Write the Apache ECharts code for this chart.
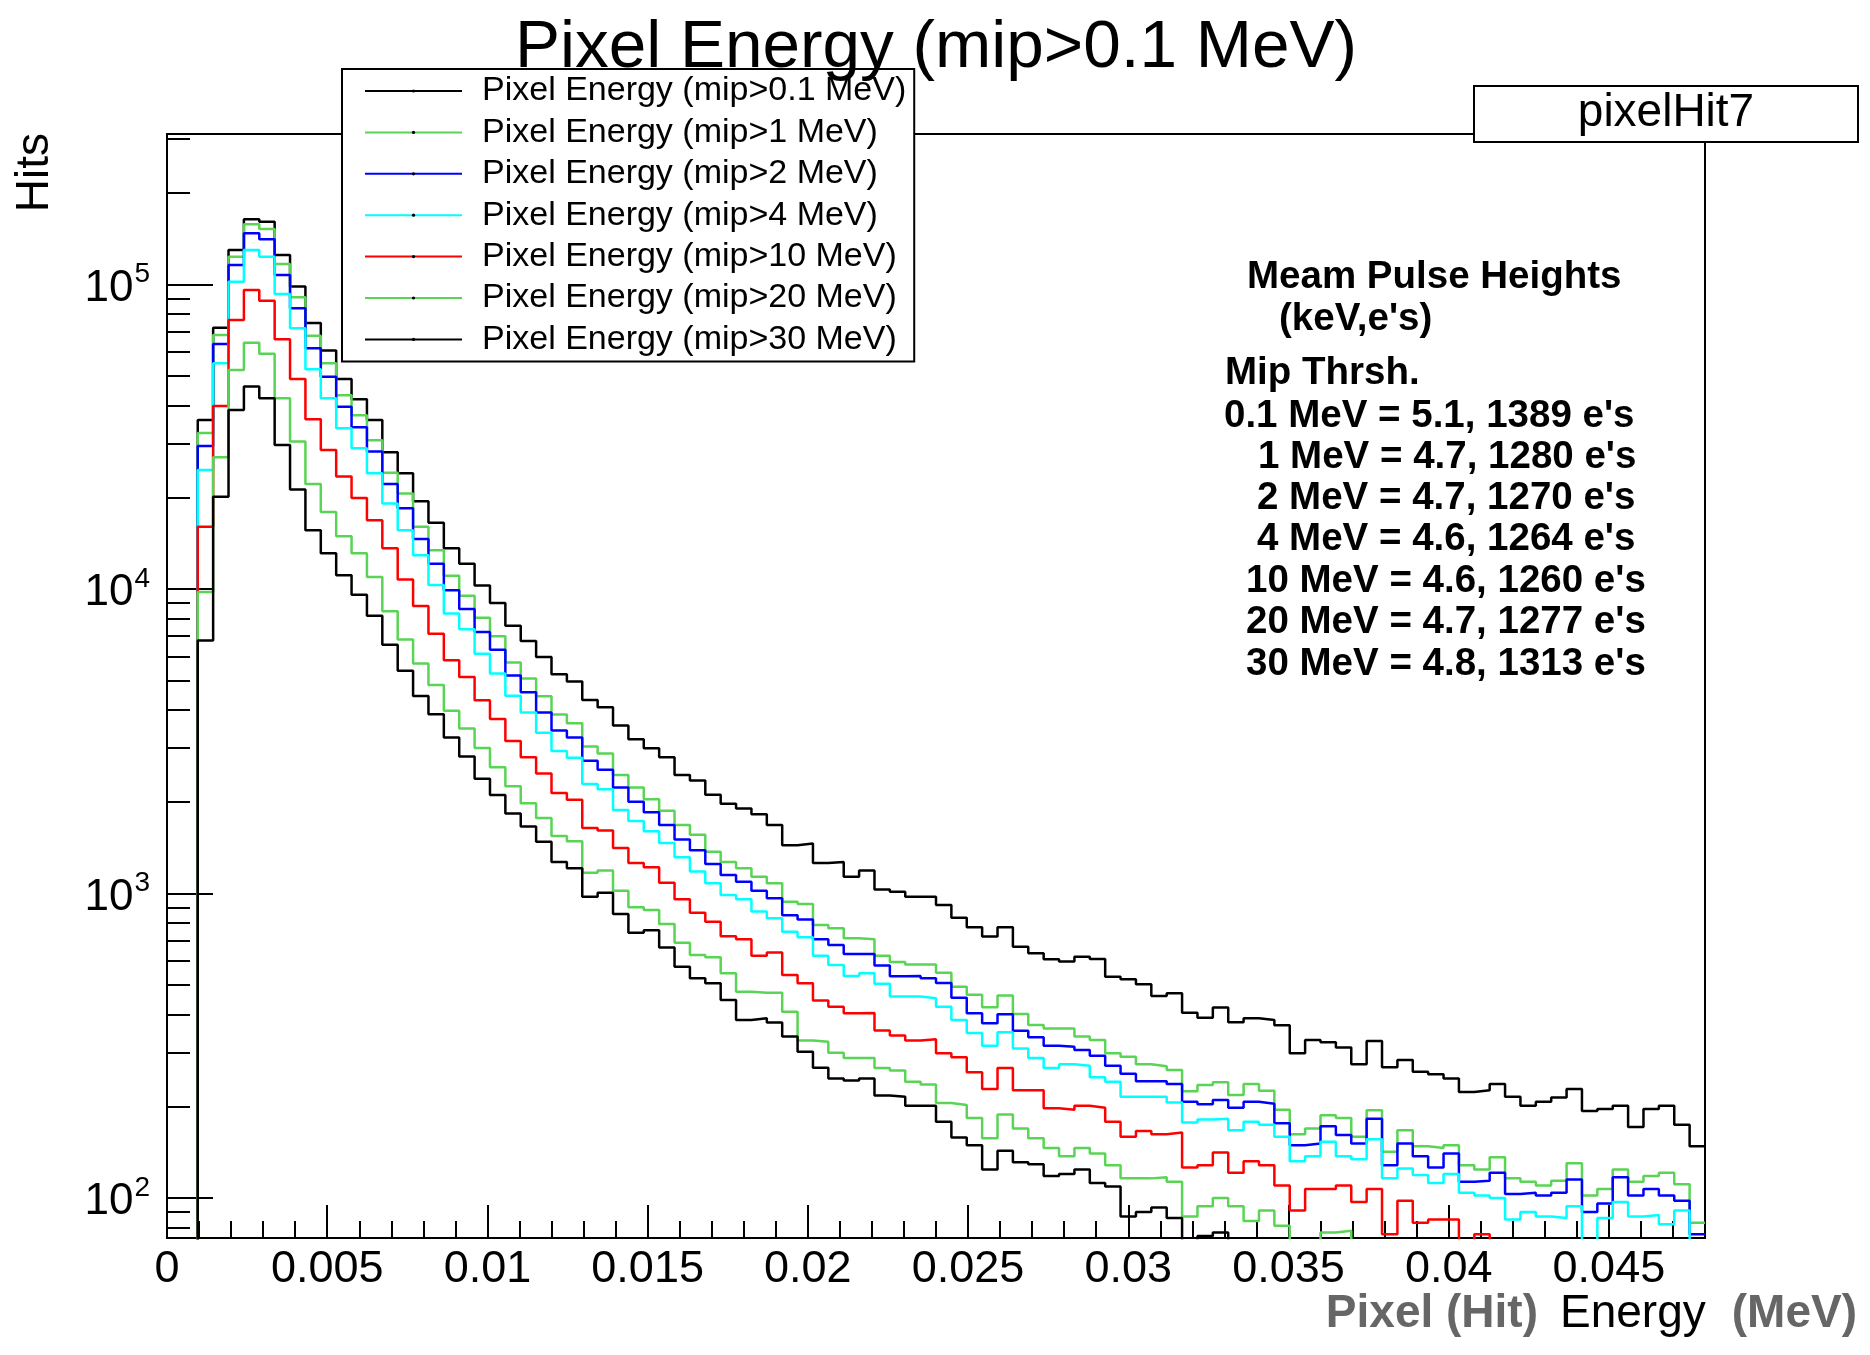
<!DOCTYPE html>
<html>
<head>
<meta charset="utf-8">
<script src="https://cdn.jsdelivr.net/npm/echarts@6/dist/echarts.min.js"></script>
<style>
html,body{margin:0;padding:0;background:#fff;}
#chart{width:1870px;height:1355px;}
</style>
</head>
<body>
<div id="chart"></div>
<script>
// ---------------- data ----------------
const binWidth = 0.00048;      // MeV per bin
const nBins = 100;             // histogram range 0 .. 0.048 MeV
const xMin = 0, xMax = 0.048;
const yMinCount = 73.9, yMaxCount = 312000;

const seriesNames = [
  'Pixel Energy (mip>0.1 MeV)',
  'Pixel Energy (mip>1 MeV)',
  'Pixel Energy (mip>2 MeV)',
  'Pixel Energy (mip>4 MeV)',
  'Pixel Energy (mip>10 MeV)',
  'Pixel Energy (mip>20 MeV)',
  'Pixel Energy (mip>30 MeV)'
];
const seriesColors = ['#000000', '#59d454', '#0000ff', '#00ffff', '#ff0000', '#59d454', '#000000'];

const hitsMip01 = [0,0,35900,72100,129800,163700,160700,125000,98400,74700,
  60700,48900,42000,35900,28100,24000,19400,16500,13600,12100,
  10260,9000,7570,6750,5980,5250,4970,4320,4090,3560,
  3210,3000,2800,2450,2350,2110,1970,1900,1820,1680,
  1440,1460,1260,1270,1136,1190,1030,1014,976,976,
  916,832,774,722,774,668,636,608,598,620,
  609,533,523,503,461,470,406,391,422,378,
  389,384,369,299,330,325,312,275,328,269,
  284,260,255,247,223,226,237,215,201,207,
  214,228,193,196,201,171,196,201,174,148];

const hitsMip1 = [0,0,32500,68200,123300,157800,152000,116700,90800,67800,
  55100,43300,37200,30800,24100,20600,16000,13400,11050,9500,
  8040,6990,5740,5080,4440,3870,3620,3040,2880,2450,
  2230,2040,1870,1680,1560,1370,1270,1210,1136,1080,
  939,924,788,769,713,707,625,596,585,585,
  549,494,465,423,462,402,370,360,360,339,
  330,299,291,275,271,263,224,235,240,218,
  237,225,195,162,169,187,183,159,194,142,
  167,148,146,149,128,124,136,116,113,110,
  114,130,102,107,124,113,118,121,111,83];

const hitsMip2 = [0,0,29500,63700,115900,147300,140700,107400,83500,61700,
  49800,39700,34000,28300,22100,18400,14600,12100,9900,8590,
  7230,6320,5200,4580,3930,3430,3250,2730,2550,2230,
  2000,1850,1680,1505,1387,1250,1150,1093,1021,965,
  849,822,707,678,633,633,580,535,536,527,
  508,455,404,375,401,354,337,316,314,306,
  293,272,256,242,242,237,207,203,210,198,
  207,204,176,149,151,172,161,151,182,128,
  151,137,126,140,113,114,121,103,104,102,
  104,115,90,96,117,102,107,102,98,76];

const hitsMip4 = [0,0,24600,55100,102100,129800,123300,93100,71800,52700,
  42300,33700,29000,24000,19100,15600,12900,10300,8300,7380,
  6130,5280,4460,3930,3370,2940,2790,2290,2200,1880,
  1730,1600,1465,1315,1180,1080,988,957,872,829,
  749,718,624,582,536,547,505,459,459,453,
  425,384,348,316,350,310,288,267,275,272,
  249,241,215,215,215,206,177,181,182,167,
  178,174,159,132,137,153,137,134,156,116,
  125,119,112,120,104,102,100,85,90,87,
  86,94,0,86,97,87,88,82,91,0];

const hitsMip10 = [0,0,16000,39900,76400,95900,88500,66100,48900,36100,
  28600,23400,19900,16800,13600,10750,8800,7130,5830,5140,
  4310,3740,3165,2800,2480,2140,2030,1640,1610,1410,
  1260,1220,1085,957,865,808,724,707,624,640,
  540,507,445,425,404,405,355,342,329,332,
  299,290,259,228,267,226,226,197,195,201,
  198,178,159,166,162,164,126,128,141,121,
  132,128,110,91,107,107,110,97,107,76,
  98,83,85,85,0,76,0,0,0,0,
  0,0,0,0,0,0,0,0,0,0];

const hitsMip20 = [0,0,9770,27100,52400,64400,59200,42300,30500,22100,
  17900,14900,13100,10950,8450,6820,5690,4840,3980,3480,
  3005,2600,2250,1980,1770,1545,1485,1170,1190,1020,
  901,883,794,689,628,617,547,476,472,472,
  409,329,326,300,288,288,267,262,241,236,
  205,202,183,157,188,169,157,146,137,146,
  140,128,116,116,117,113,87,94,100,94,
  84,91,81,0,0,77,78,0,0,0,
  0,0,0,0,0,0,0,0,0,0,
  0,0,0,0,0,0,0,0,0,0];

const hitsMip30 = [0,0,6780,20100,38700,46200,42300,29700,21200,15600,
  13100,11100,9570,8170,6560,5390,4450,3880,3250,2820,
  2380,2105,1830,1660,1480,1270,1210,976,1006,856,
  743,758,665,575,527,507,447,384,389,377,
  339,302,268,247,243,247,217,215,201,201,
  178,158,149,124,143,131,129,118,120,124,
  112,109,87,90,93,86,0,75,77,0,
  0,0,0,0,0,0,0,0,0,0,
  0,0,0,0,0,0,0,0,0,0,
  0,0,0,0,0,0,0,0,0,0];

const xMajorTicks = [0, 0.005, 0.01, 0.015, 0.02, 0.025, 0.03, 0.035, 0.04, 0.045];
const xTickLabels = ['0', '0.005', '0.01', '0.015', '0.02', '0.025', '0.03', '0.035', '0.04', '0.045'];
const yDecadeExponents = [2, 3, 4, 5];

const titleText = 'Pixel Energy (mip>0.1 MeV)';
const statBoxText = 'pixelHit7';
const noteLines = [
  'Meam Pulse Heights',
  "(keV,e's)",
  'Mip Thrsh.',
  "0.1 MeV = 5.1, 1389 e's",
  "1 MeV = 4.7, 1280 e's",
  "2 MeV = 4.7, 1270 e's",
  "4 MeV = 4.6, 1264 e's",
  "10 MeV = 4.6, 1260 e's",
  "20 MeV = 4.7, 1277 e's",
  "30 MeV = 4.8, 1313 e's"
];

// ---------------- layout / style (not data) ----------------
const FONT = '"Liberation Sans", Arial, Helvetica, sans-serif';
const noteLeft = [1247, 1279, 1225, 1224, 1258, 1257, 1257, 1246, 1246, 1246];
const noteY = [277, 319, 373, 416, 457, 498, 539, 581, 622, 664];

const allHits = [hitsMip01, hitsMip1, hitsMip2, hitsMip4, hitsMip10, hitsMip20, hitsMip30];

const yLogMin = Math.log10(yMinCount);
const yLogMax = Math.log10(yMaxCount);
function toLog(c) { return c > 0 ? Math.log10(c) : yLogMin - 1; }
function stepPoints(counts) {
  const pts = counts.map((c, i) => [i * binWidth, toLog(c)]);
  pts.push([nBins * binWidth, toLog(counts[counts.length - 1])]);
  return pts;
}

const yMinorLogs = [];
for (let e = 1; e <= 5; e++) {
  for (let k = 2; k <= 9; k++) {
    const lv = Math.log10(k * Math.pow(10, e));
    if (lv > yLogMin && lv < yLogMax) yMinorLogs.push(lv);
  }
}
const xMinorTicks = [];
for (let i = 1; i <= 47; i++) {
  if (i % 5 !== 0) xMinorTicks.push(i / 1000);
}

const series = allHits.map((h, i) => ({
  type: 'line',
  name: seriesNames[i],
  data: stepPoints(h),
  step: 'end',
  symbol: 'none',
  showSymbol: false,
  clip: true,
  animation: false,
  lineStyle: { color: seriesColors[i], width: 2.5 },
  itemStyle: { color: seriesColors[i] },
  z: 2 + i * 0.01
}));

function textEl(txt, x, y, font, align, extra) {
  return Object.assign({
    type: 'text', x: x, y: y, z: 60,
    style: {
      text: txt, font: font, fill: '#000',
      align: align, textAlign: align,
      verticalAlign: 'middle', textVerticalAlign: 'middle'
    }
  }, extra || {});
}

const graphics = [];
graphics.push(textEl(titleText, 936, 48, 'normal 67.5px ' + FONT, 'center'));
graphics.push({
  type: 'rect', z: 55,
  shape: { x: 1474, y: 86, width: 384, height: 56 },
  style: { fill: '#fff', stroke: '#000', lineWidth: 2 }
});
graphics.push(textEl(statBoxText, 1666, 113, 'normal 46px ' + FONT, 'center'));
noteLines.forEach((t, i) => {
  graphics.push(textEl(t, noteLeft[i], noteY[i], 'bold 38.5px ' + FONT, 'left'));
});
graphics.push(textEl('Hits', 35, 133, 'normal 46px ' + FONT, 'right', { rotation: Math.PI / 2 }));
graphics.push(textEl('(MeV)', 1857, 1314, 'bold 46px ' + FONT, 'right'));
graphics[graphics.length - 1].style.fill = '#666666';
graphics.push(textEl('Energy', 1560, 1314, 'normal 46px ' + FONT, 'left'));
graphics.push(textEl('Pixel (Hit)', 1538, 1314, 'bold 46px ' + FONT, 'right'));
graphics[graphics.length - 1].style.fill = '#666666';

const chart = echarts.init(document.getElementById('chart'), null, { renderer: 'canvas' });
chart.setOption({
  animation: false,
  backgroundColor: '#ffffff',
  grid: {
    left: 167, top: 134, width: 1538, height: 1104,
    show: true, borderColor: '#000', borderWidth: 2, backgroundColor: 'transparent',
    containLabel: false, outerBoundsMode: 'none'
  },
  xAxis: [
    {
      type: 'value', min: xMin, max: xMax, position: 'bottom',
      axisLine: { show: true, onZero: false, lineStyle: { color: '#000', width: 2 } },
      axisTick: { show: true, inside: true, length: 33, customValues: xMajorTicks, lineStyle: { color: '#000', width: 2 } },
      axisLabel: {
        show: true, customValues: xMajorTicks, margin: 9,
        color: '#000', fontFamily: FONT, fontSize: 45,
        formatter: function (v) {
          const idx = xMajorTicks.findIndex(t => Math.abs(t - v) < 1e-9);
          return idx >= 0 ? xTickLabels[idx] : '';
        }
      },
      splitLine: { show: false }
    },
    {
      type: 'value', min: xMin, max: xMax, position: 'bottom',
      axisLine: { show: false },
      axisTick: { show: true, inside: true, length: 17, customValues: xMinorTicks, lineStyle: { color: '#000', width: 2 } },
      axisLabel: { show: false },
      splitLine: { show: false }
    }
  ],
  yAxis: [
    {
      type: 'value', min: yLogMin, max: yLogMax, position: 'left',
      axisLine: { show: true, onZero: false, lineStyle: { color: '#000', width: 2 } },
      axisTick: { show: true, inside: true, length: 46, customValues: yDecadeExponents, lineStyle: { color: '#000', width: 2 } },
      axisLabel: {
        show: true, customValues: yDecadeExponents, margin: 17, color: '#000',
        formatter: function (v) { return '{b|10}{s|' + Math.round(v) + '}'; },
        rich: {
          b: { fontSize: 44, fontFamily: FONT, color: '#000', lineHeight: 48, padding: [8, 0, 0, 0] },
          s: { fontSize: 28, fontFamily: FONT, color: '#000', lineHeight: 28, verticalAlign: 'top', padding: [0, 0, 0, 1] }
        }
      },
      splitLine: { show: false }
    },
    {
      type: 'value', min: yLogMin, max: yLogMax, position: 'left',
      axisLine: { show: false },
      axisTick: { show: true, inside: true, length: 23, customValues: yMinorLogs, lineStyle: { color: '#000', width: 2 } },
      axisLabel: { show: false },
      splitLine: { show: false }
    }
  ],
  legend: {
    show: true,
    orient: 'vertical',
    left: 342, top: 69,
    padding: [5, 8, 5, 22],
    itemWidth: 97, itemHeight: 4, itemGap: 7.4,
    selectedMode: false,
    backgroundColor: '#ffffff',
    borderColor: '#000', borderWidth: 2, borderRadius: 0,
    itemStyle: { color: '#000', borderWidth: 0 },
    lineStyle: { width: 2 },
    textStyle: { fontSize: 34, fontFamily: FONT, color: '#000', lineHeight: 34, padding: [0, 0, 0, 15] },
    data: seriesNames,
    z: 20
  },
  graphic: { elements: graphics },
  series: series
});
</script>
</body>
</html>
